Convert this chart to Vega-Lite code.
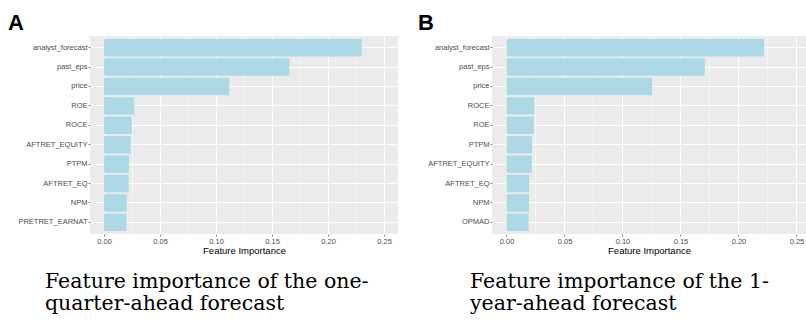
{
  "$schema": "https://vega.github.io/schema/vega-lite/v6.json",
  "background": "white",
  "padding": {"left": 8, "top": 12, "right": 0, "bottom": 0},
  "spacing": 20,
  "datasets": {
    "quarter": [
      {"feature": "analyst_forecast", "importance": 0.2301},
      {"feature": "past_eps", "importance": 0.1655},
      {"feature": "price", "importance": 0.1119},
      {"feature": "ROE", "importance": 0.027},
      {"feature": "ROCE", "importance": 0.0247},
      {"feature": "AFTRET_EQUITY", "importance": 0.0238},
      {"feature": "PTPM", "importance": 0.0223},
      {"feature": "AFTRET_EQ", "importance": 0.022},
      {"feature": "NPM", "importance": 0.0203},
      {"feature": "PRETRET_EARNAT", "importance": 0.02}
    ],
    "year": [
      {"feature": "analyst_forecast", "importance": 0.222},
      {"feature": "past_eps", "importance": 0.171},
      {"feature": "price", "importance": 0.1255},
      {"feature": "ROCE", "importance": 0.0241},
      {"feature": "ROE", "importance": 0.0235},
      {"feature": "PTPM", "importance": 0.022},
      {"feature": "AFTRET_EQUITY", "importance": 0.0218},
      {"feature": "AFTRET_EQ", "importance": 0.0196},
      {"feature": "NPM", "importance": 0.0194},
      {"feature": "OPMAD", "importance": 0.019}
    ]
  },
  "hconcat": [
    {
      "title": {"text": "A", "orient": "top", "anchor": "start", "offset": 1, "font": "Liberation Sans", "fontSize": 22, "fontWeight": "bold", "color": "black"},
      "vconcat": [
        {
          "data": {"name": "quarter"},
          "width": 308,
          "height": 198,
          "title": {"text": ["Feature importance of the one-", "quarter-ahead forecast"], "orient": "bottom", "anchor": "start", "baseline": "top", "dx": 37, "offset": 17, "font": "DejaVu Serif", "fontSize": 20.5, "fontWeight": "normal", "lineHeight": 22, "color": "black"},
          "encoding": {
            "y": {
              "field": "feature", "type": "nominal",
              "sort": ["analyst_forecast", "past_eps", "price", "ROE", "ROCE", "AFTRET_EQUITY", "PTPM", "AFTRET_EQ", "NPM", "PRETRET_EARNAT"],
              "scale": {"paddingInner": 0.1, "paddingOuter": 0.15},
              "axis": {"title": null, "domain": false, "tickSize": 2, "tickColor": "#333333", "tickWidth": 0.6, "labelFontSize": 7.5, "labelColor": "#4D4D4D", "labelFont": "Liberation Sans", "labelPadding": 1, "grid": true, "gridColor": "white", "gridWidth": 1.1, "bandPosition": 0.5, "minExtent": 82, "maxExtent": 82}
            }
          },
          "layer": [
            {
              "mark": {"type": "bar", "color": "#ADD8E6"},
              "encoding": {
                "x": {
                  "field": "importance", "type": "quantitative",
                  "scale": {"domain": [-0.0125, 0.2625], "nice": false, "zero": false},
                  "axis": {"values": [0, 0.05, 0.1, 0.15, 0.2, 0.25], "format": ".2f", "title": "Feature Importance", "titleFontSize": 9.5, "titleFont": "Liberation Sans", "titleFontWeight": "normal", "titleColor": "black", "titlePadding": 1, "domain": false, "tickSize": 2, "tickColor": "#333333", "tickWidth": 0.6, "labelFontSize": 7.5, "labelColor": "#4D4D4D", "labelFont": "Liberation Sans", "labelPadding": 1, "labelFlush": false, "labelOverlap": false, "grid": true, "gridColor": "white", "gridWidth": 1.1}
                }
              }
            },
            {
              "mark": {"type": "bar", "opacity": 0},
              "encoding": {
                "x": {
                  "field": "importance", "type": "quantitative",
                  "axis": {"orient": "top", "values": [0.025, 0.075, 0.125, 0.175, 0.225], "grid": true, "gridColor": "white", "gridWidth": 0.5, "labels": false, "ticks": false, "domain": false, "title": null, "minExtent": 0, "maxExtent": 0, "offset": 0}
                }
              }
            }
          ],
          "resolve": {"axis": {"x": "independent"}}
        }
      ]
    },
    {
      "title": {"text": "B", "orient": "top", "anchor": "start", "offset": 1, "font": "Liberation Sans", "fontSize": 22, "fontWeight": "bold", "color": "black"},
      "vconcat": [
        {
          "data": {"name": "year"},
          "width": 314,
          "height": 198,
          "title": {"text": ["Feature importance of the 1-", "year-ahead forecast"], "orient": "bottom", "anchor": "start", "baseline": "top", "dx": 52, "offset": 17, "font": "DejaVu Serif", "fontSize": 20.5, "fontWeight": "normal", "lineHeight": 22, "color": "black"},
          "encoding": {
            "y": {
              "field": "feature", "type": "nominal",
              "sort": ["analyst_forecast", "past_eps", "price", "ROCE", "ROE", "PTPM", "AFTRET_EQUITY", "AFTRET_EQ", "NPM", "OPMAD"],
              "scale": {"paddingInner": 0.1, "paddingOuter": 0.15},
              "axis": {"title": null, "domain": false, "tickSize": 2, "tickColor": "#333333", "tickWidth": 0.6, "labelFontSize": 7.5, "labelColor": "#4D4D4D", "labelFont": "Liberation Sans", "labelPadding": 1, "grid": true, "gridColor": "white", "gridWidth": 1.1, "bandPosition": 0.5, "minExtent": 74, "maxExtent": 74}
            }
          },
          "layer": [
            {
              "mark": {"type": "bar", "color": "#ADD8E6"},
              "encoding": {
                "x": {
                  "field": "importance", "type": "quantitative",
                  "scale": {"domain": [-0.0125, 0.2582], "nice": false, "zero": false},
                  "axis": {"values": [0, 0.05, 0.1, 0.15, 0.2, 0.25], "format": ".2f", "title": "Feature Importance", "titleFontSize": 9.5, "titleFont": "Liberation Sans", "titleFontWeight": "normal", "titleColor": "black", "titlePadding": 1, "domain": false, "tickSize": 2, "tickColor": "#333333", "tickWidth": 0.6, "labelFontSize": 7.5, "labelColor": "#4D4D4D", "labelFont": "Liberation Sans", "labelPadding": 1, "labelFlush": false, "labelOverlap": false, "grid": true, "gridColor": "white", "gridWidth": 1.1}
                }
              }
            },
            {
              "mark": {"type": "bar", "opacity": 0},
              "encoding": {
                "x": {
                  "field": "importance", "type": "quantitative",
                  "axis": {"orient": "top", "values": [0.025, 0.075, 0.125, 0.175, 0.225], "grid": true, "gridColor": "white", "gridWidth": 0.5, "labels": false, "ticks": false, "domain": false, "title": null, "minExtent": 0, "maxExtent": 0, "offset": 0}
                }
              }
            }
          ],
          "resolve": {"axis": {"x": "independent"}}
        }
      ]
    }
  ],
  "config": {
    "view": {"fill": "#EBEBEB", "stroke": null},
    "axis": {"zindex": 0}
  }
}
